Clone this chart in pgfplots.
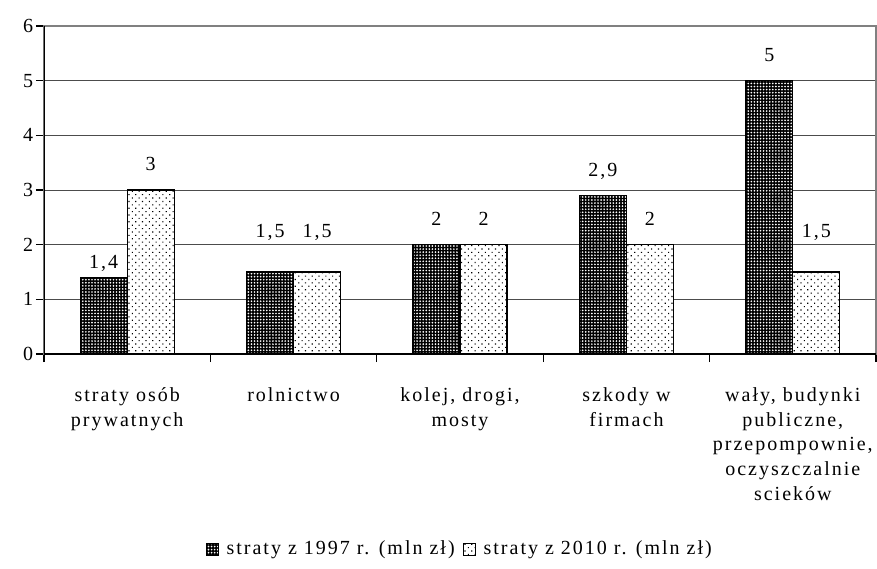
\documentclass[border=0pt]{standalone}
\usepackage{fontspec}
\setmainfont{Liberation Serif}[LetterSpace=10]
\usepackage{pgfplots}
\usepackage{pgfplotstable}
\pgfplotsset{compat=1.18}
\usetikzlibrary{patterns.meta}

\newcommand\chartfont{\fontsize{15}{18.5}\selectfont}
\pgfplotsset{sqlegend/.style={legend image code/.code={\draw[##1, line width=0.6pt] (0pt,-4.5pt) rectangle (9pt,4.5pt); \path (13pt,0pt);}}}

\pgfplotstableread{
x y off
0 1.4 7.1
1 1.5 26.2
2 2.0 14.6
3 2.9 14.6
4 5.0 14.6
}\tabA
\pgfplotstableread{
x y off
0 3.0 15.0
1 1.5 26.2
2 2.0 14.6
3 2.0 14.6
4 1.5 26.2
}\tabB

\begin{document}
\chartfont
\begin{tikzpicture}[font=\chartfont]
\begin{axis}[
  name=ax,
  at={(0,0)}, anchor=south west,
  scale only axis, width=624pt, height=246pt,
  ymin=0, ymax=6, xmin=-0.5, xmax=4.5,
  ybar=0pt, bar width=0.283,
  ytick={0,...,6},
  xtick={-0.5,0.5,...,4.5},
  xticklabels={},
  extra x ticks={0,1,2,3,4},
  extra x tick labels={{straty osób\\prywatnych},{rolnictwo},{kolej, drogi,\\mosty},{szkody w\\firmach},{wały, budynki\\publiczne,\\przepompownie,\\oczyszczalnie\\scieków}},
  extra x tick style={major tick length=0pt, tick style={draw=none}},
  tick label style={font=\chartfont},
  x tick label style={align=center, yshift=-20pt},
  y tick label style={xshift=3pt},
  tick align=outside,
  major tick length=6pt,
  xtick pos=bottom, ytick pos=left,
  tick style={black, line width=0.8pt},
  ymajorgrids,
  major grid style={black!70, line width=0.75pt},
  axis line style={draw=black!50, line width=1.3pt},
  /pgf/number format/assume math mode=true,
  /pgf/number format/use comma,
  legend style={at={(0.5,-0.595)}, anchor=center, draw=none, legend columns=2, font=\chartfont,
    /tikz/every even column/.append style={column sep=4pt}},
  legend cell align=left,
  nodes near coords,
  every node near coord/.append style={anchor=base, yshift=\myoff pt, black, font=\chartfont},
  visualization depends on={\thisrow{off} \as \myoff},
]
\addplot[bar shift=-0.1415, draw=black, line width=0.9pt,
  fill=black, postaction={pattern={Dots[distance=2.3pt, radius=0.7pt]}, pattern color=white},
  sqlegend]
  table[x=x, y=y] {\tabA};
\addlegendentry{straty z 1997 r. (mln zł)}
\addplot[bar shift=0.1415, draw=black, line width=0.9pt,
  fill=white, postaction={pattern={Dots[distance=3.6pt, angle=45, radius=0.6pt]}, pattern color=black},
  sqlegend]
  table[x=x, y=y] {\tabB};
\addlegendentry{straty z 2010 r. (mln zł)}
\draw[black, line width=0.9pt] (rel axis cs:0,1) -- (rel axis cs:0,0) -- (rel axis cs:1,0);
\end{axis}
\pgfresetboundingbox
\path[use as bounding box] (-33pt,-160.5pt) rectangle (624.75pt,265.5pt);
\end{tikzpicture}
\end{document}
